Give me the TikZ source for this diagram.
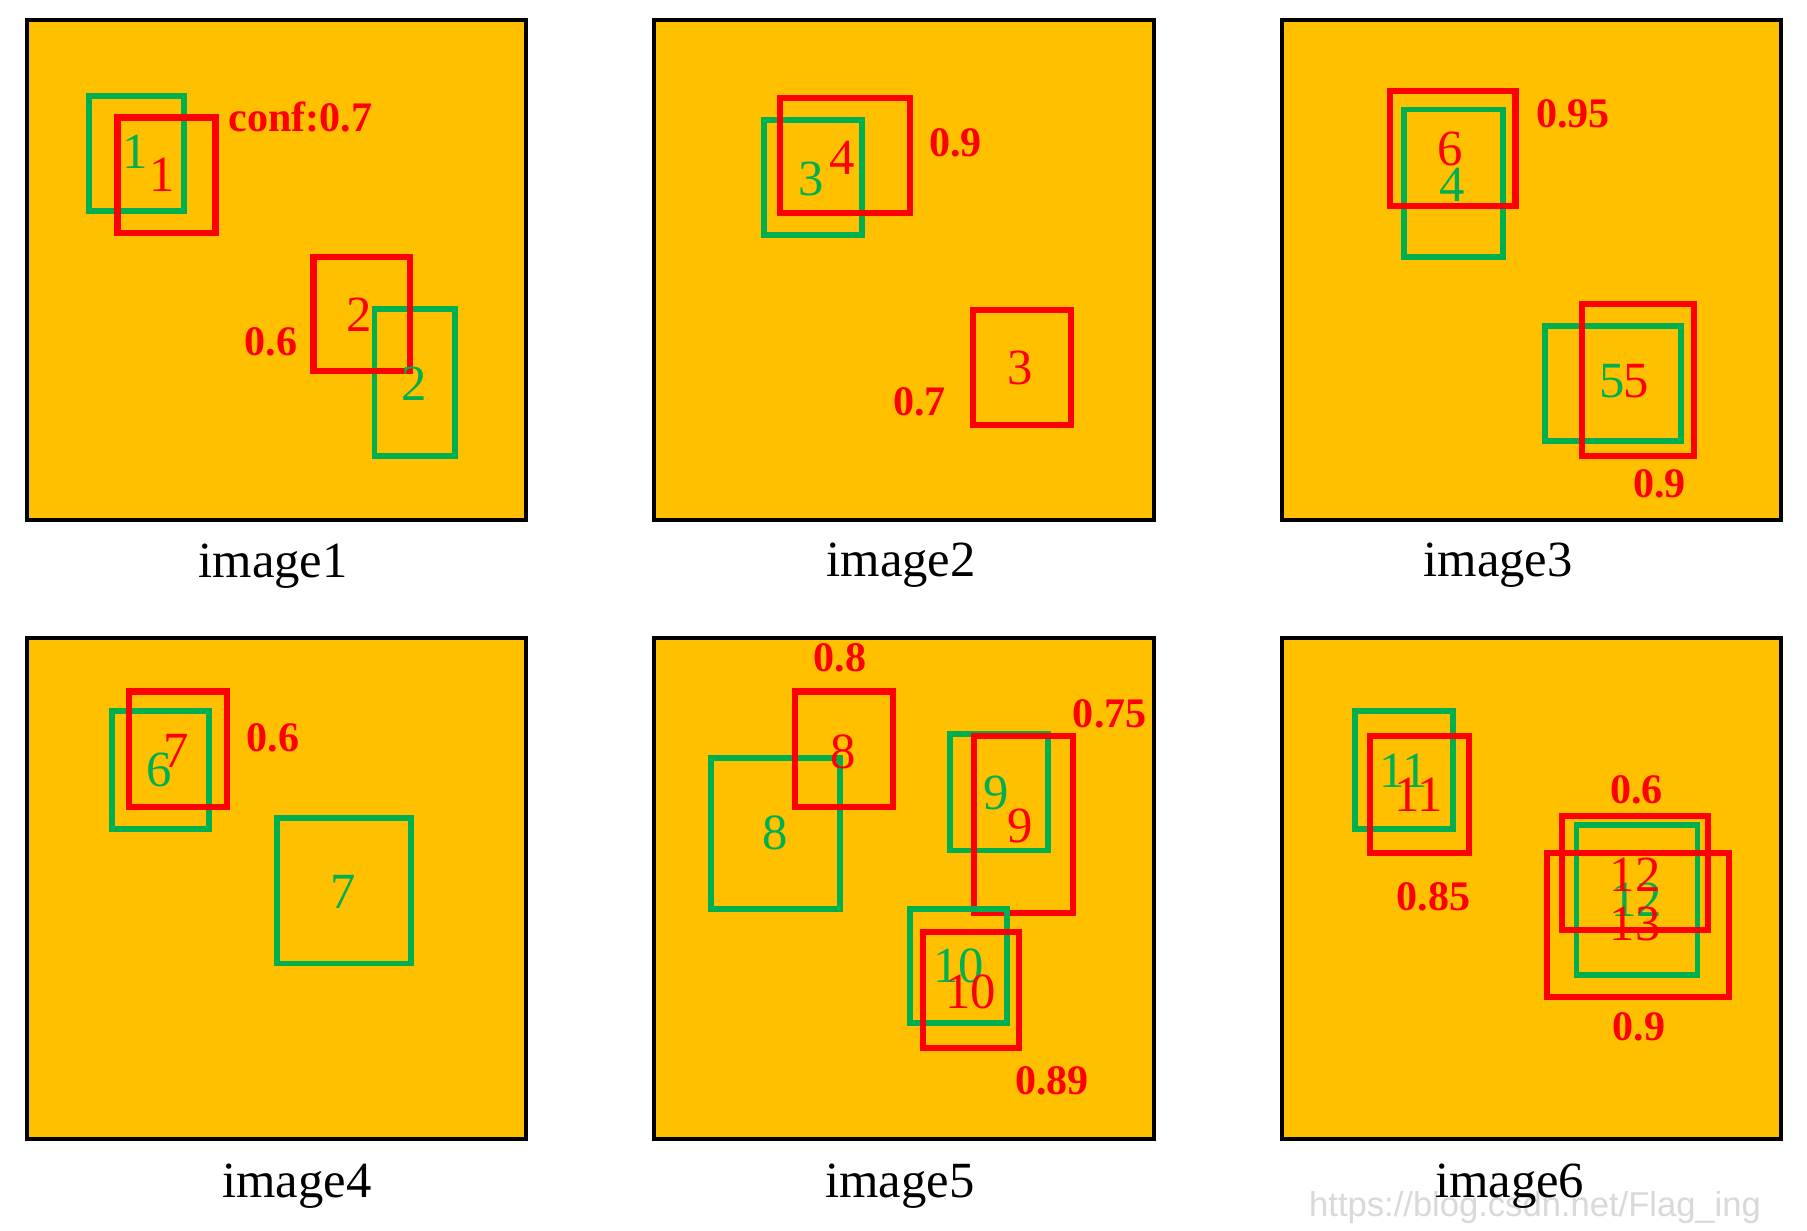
\documentclass[tikz,border=0pt]{standalone}
\usepackage{fontspec}
\setmainfont{Liberation Serif}
\newfontfamily\wmfont{Liberation Sans}
\definecolor{panelfill}{HTML}{FFC000}
\definecolor{gtgreen}{HTML}{00B050}
\definecolor{detred}{HTML}{FF0000}
\definecolor{wmgray}{HTML}{D9D9D9}
\tikzset{
  panel/.style={draw=black, line width=3.2pt, fill=panelfill},
  gbox/.style={draw=gtgreen, line width=5.1pt},
  rbox/.style={draw=detred, line width=5.3pt},
  gnum/.style={inner sep=0pt, text=gtgreen, font=\fontsize{44}{44}\selectfont},
  rnum/.style={inner sep=0pt, text=detred, font=\fontsize{44}{44}\selectfont},
  conf/.style={inner sep=0pt, text=detred, font=\fontsize{36.5}{36.5}\selectfont\bfseries},
  captext/.style={inner sep=0pt, anchor=base, text=black, font=\fontsize{44}{44}\selectfont},
  wm/.style={inner sep=0pt, text=wmgray, font=\wmfont\fontsize{30}{30}\selectfont}
}
\begin{document}
\begin{tikzpicture}[x=1pt,y=-1pt]
\useasboundingbox (0,0) rectangle (1568,1068);
\fill[white] (0,0) rectangle (1568,1068);

% panels
\draw[panel] (23.5,17.5) rectangle (456.5,451.5);
\draw[panel] (567.5,17.5) rectangle (1001.5,451.5);
\draw[panel] (1112.5,17.5) rectangle (1545.5,451.5);
\draw[panel] (23.5,553.5) rectangle (456.5,988.5);
\draw[panel] (567.5,553.5) rectangle (1001.5,988.5);
\draw[panel] (1112.5,553.5) rectangle (1545.5,988.5);

% ---------- image1
\draw[gbox] (77,83) rectangle (160,183);
\draw[rbox] (102,102) rectangle (187,202);
\draw[gbox] (325,268) rectangle (395,396);
\draw[rbox] (272,223) rectangle (356,322);
\node[gnum] (p1g1) at (117,132) {1};
\node[rnum] (p1r1) at (141,152) {1};
\node[rnum] (p1r2) at (312,273) {2};
\node[gnum] (p1g2) at (359,333) {2};
\node[conf] (p1c1) at (260.5,101.5) {conf:0.7};
\node[conf] (p1c2) at (235,297) {0.6};

% ---------- image2
\draw[gbox] (663,104) rectangle (748,204);
\draw[rbox] (677,85) rectangle (790,185);
\draw[rbox] (844,269) rectangle (929,369);
\node[gnum] (p2g3) at (704,155) {3};
\node[rnum] (p2r4) at (731,137) {4};
\node[rnum] (p2r3) at (885,319) {3};
\node[conf] (p2c1) at (829,124) {0.9};
\node[conf] (p2c2) at (798,349) {0.7};

% ---------- image3
\draw[gbox] (1218,95) rectangle (1304,223);
\draw[rbox] (1206,79) rectangle (1315,179);
\draw[gbox] (1341,283) rectangle (1459,383);
\draw[rbox] (1373,264) rectangle (1470,396);
\node[rnum] (p3r6) at (1258,129) {6};
\node[gnum] (p3g4) at (1260,160) {4};
\node[gnum] (p3g5) at (1399,331) {5};
\node[rnum] (p3r5) at (1420,331) {5};
\node[conf] (p3c1) at (1365,99) {0.95};
\node[conf] (p3c2) at (1440,420) {0.9};

% ---------- image4
\draw[gbox] (97,617) rectangle (181,719);
\draw[rbox] (112,600) rectangle (197,700);
\draw[gbox] (240,710) rectangle (357,836);
\node[gnum] (p4g6) at (138,668) {6};
\node[rnum] (p4r7) at (153,652) {7};
\node[gnum] (p4g7) at (298,774) {7};
\node[conf] (p4c1) at (237,640) {0.6};

% ---------- image5
\draw[gbox] (617,658) rectangle (729,789);
\draw[rbox] (690,600) rectangle (775,700);
\draw[gbox] (824,637) rectangle (909,738);
\draw[rbox] (845,639) rectangle (931,792);
\draw[gbox] (790,789) rectangle (874,888);
\draw[rbox] (801,809) rectangle (884,909);
\node[rnum] (p5r8) at (732,652) {8};
\node[gnum] (p5g8) at (673,723) {8};
\node[gnum] (p5g9) at (864,688) {9};
\node[rnum] (p5r9) at (885,717) {9};
\node[gnum] (p5g10) at (832,838) {10};
\node[rnum] (p5r10) at (842,861) {10};
\node[conf] (p5c1) at (729,571) {0.8};
\node[conf] (p5c2) at (963,619) {0.75};
\node[conf] (p5c3) at (913,938) {0.89};

% ---------- image6
\draw[gbox] (1176,617) rectangle (1261,719);
\draw[rbox] (1189,639) rectangle (1275,740);
\draw[gbox] (1368,716) rectangle (1473,846);
\draw[rbox] (1355,708) rectangle (1482,807);
\draw[rbox] (1342,740) rectangle (1500,865);
\node[gnum] (p6g11) at (1218,669) {11};
\node[rnum] (p6r11) at (1231,690) {11};
\node[gnum] (p6g12) at (1420,781) {12};
\node[rnum] (p6r12) at (1419,759) {12};
\node[rnum] (p6r13) at (1419,802) {13};
\node[conf] (p6c1) at (1244,778) {0.85};
\node[conf] (p6c2) at (1420,685) {0.6};
\node[conf] (p6c3) at (1422,891) {0.9};

% watermark
\node[wm] (wmark) at (1332,1048) {https://blog.csdn.net/Flag\_ing};

% captions
\node[captext] (cap1) at (237,501) {image1};
\node[captext] (cap2) at (782,500) {image2};
\node[captext] (cap3) at (1300,500) {image3};
\node[captext] (cap4) at (257.5,1039) {image4};
\node[captext] (cap5) at (781,1039) {image5};
\node[captext] (cap6) at (1310,1039) {image6};
\end{tikzpicture}
\end{document}
